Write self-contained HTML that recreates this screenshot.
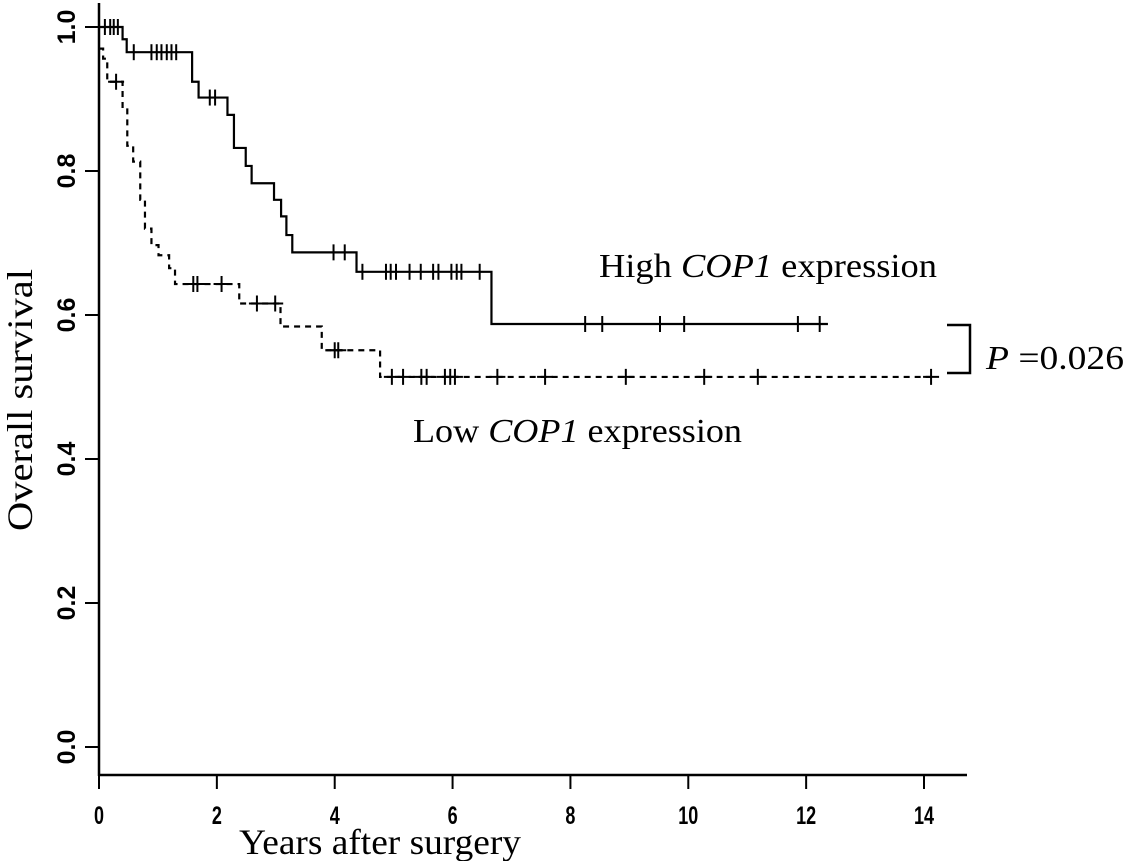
<!DOCTYPE html>
<html><head><meta charset="utf-8"><style>
html,body{margin:0;padding:0;background:#fff}
svg{display:block}
.serif{font-family:"Liberation Serif",serif}
.tick{font-family:"Liberation Sans",sans-serif;font-weight:bold;font-size:25px}
</style></head><body>
<svg id="chart" width="1127" height="861" viewBox="0 0 1127 861" xmlns="http://www.w3.org/2000/svg">
<g id="axes"></g>
<g id="curves"></g>
<text class="serif" x="599" y="277" font-size="34" textLength="338" lengthAdjust="spacingAndGlyphs">High <tspan font-style="italic">COP1</tspan> expression</text>
<text class="serif" x="413" y="442" font-size="34" textLength="329" lengthAdjust="spacingAndGlyphs">Low <tspan font-style="italic">COP1</tspan> expression</text>
<path d="M947 325 H970 V373 H947" fill="none" stroke="#000" stroke-width="2.5"/>
<text class="serif" x="986" y="369" font-size="34" textLength="138" lengthAdjust="spacingAndGlyphs"><tspan font-style="italic">P</tspan> =0.026</text>
<text class="serif" x="380" y="854" font-size="36" text-anchor="middle" textLength="282" lengthAdjust="spacingAndGlyphs">Years after surgery</text>
<text class="serif" transform="translate(32,400) rotate(-90)" font-size="36" text-anchor="middle" textLength="262" lengthAdjust="spacingAndGlyphs">Overall survival</text>
</svg>
<script>
const xTicks=[0,2,4,6,8,10,12,14];
const yTicks=[0.0,0.2,0.4,0.6,0.8,1.0];
const yTickLabels=["0.0","0.2","0.4","0.6","0.8","1.0"];
// High COP1: step times and survival after each step
const highStartS=1.0;
const highTimes=[0.40,0.47,1.58,1.69,2.18,2.29,2.49,2.59,2.97,3.09,3.18,3.28,4.37,6.66];
const highSurv=[0.983,0.965,0.924,0.902,0.878,0.832,0.807,0.783,0.760,0.737,0.711,0.687,0.660,0.5875];
const highCensor=[0.10,0.19,0.25,0.32,0.59,0.89,0.98,1.06,1.15,1.23,1.31,1.88,1.97,3.98,4.17,4.47,4.87,4.95,5.04,5.27,5.46,5.67,5.76,5.98,6.07,6.15,6.46,8.25,8.54,9.52,9.93,11.86,12.23];
const highEnd=12.37;
// Low COP1
const lowStartS=0.970;
const lowTimes=[0.07,0.14,0.40,0.48,0.58,0.70,0.78,0.89,1.01,1.19,1.29,2.38,3.08,3.78,4.77];
const lowSurv=[0.956,0.924,0.889,0.835,0.813,0.760,0.720,0.697,0.683,0.665,0.643,0.616,0.584,0.551,0.514];
const lowCensor=[0.29,1.60,1.67,2.08,2.68,2.99,4.00,4.06,4.97,5.16,5.47,5.56,5.87,5.96,6.04,6.76,7.57,8.94,10.27,11.18,14.12];
const lowEnd=14.12;

const NS="http://www.w3.org/2000/svg";
const X=t=>99+t*(825/14);
const Y=s=>747-s*720;
function mk(tag,attrs,parent){const e=document.createElementNS(NS,tag);for(const k in attrs)e.setAttribute(k,attrs[k]);parent.appendChild(e);return e;}
const axes=document.getElementById('axes');
const curves=document.getElementById('curves');
let e;
e=mk('line',{x1:99,y1:3,x2:99,y2:776,stroke:'#000','stroke-width':2.5},axes);


e=mk('line',{x1:98,y1:775,x2:967,y2:775,stroke:'#000','stroke-width':2.5},axes);


xTicks.forEach(v=>{
  e=mk('line',{x1:X(v),y1:775,x2:X(v),y2:789,stroke:'#000','stroke-width':2},axes);
  
  
  e=mk('text',{'text-anchor':'middle',class:'tick','font-size':'26',transform:`translate(${X(v)},824) scale(0.72,1)`},axes);
  e.textContent=String(v);
  
  
});
yTicks.forEach((v,i)=>{
  e=mk('line',{x1:85,y1:Y(v),x2:99,y2:Y(v),stroke:'#000','stroke-width':2},axes);
  
  
  e=mk('text',{class:'tick','text-anchor':'middle','font-size':'22',transform:`translate(75,${Y(v)}) rotate(-90)`},axes);
  e.textContent=yTickLabels[i];
  
  
});
function stepPath(s0,times,surv,end){
  let d=`M${X(0)} ${Y(s0)}`;
  times.forEach((t,i)=>{d+=` H${X(t)} V${Y(surv[i])}`;});
  d+=` H${X(end)}`;return d;
}
function survAt(s0,times,surv,t){let s=s0;times.forEach((tt,i)=>{if(tt<=t)s=surv[i];});return s;}
e=mk('path',{d:stepPath(highStartS,highTimes,highSurv,highEnd),fill:'none',stroke:'#000','stroke-width':2.2},curves);


e=mk('path',{d:stepPath(lowStartS,lowTimes,lowSurv,lowEnd),fill:'none',stroke:'#000','stroke-width':2.2,'stroke-dasharray':'6,5'},curves);


highCensor.forEach(t=>{
  const y=Y(survAt(highStartS,highTimes,highSurv,t));
  e=mk('line',{x1:X(t),y1:y-8,x2:X(t),y2:y+8,stroke:'#000','stroke-width':2},curves);
  
  
});
lowCensor.forEach(t=>{
  const y=Y(survAt(lowStartS,lowTimes,lowSurv,t));
  e=mk('path',{d:`M${X(t)} ${y-8} V${y+8} M${X(t)-8} ${y} H${X(t)+8}`,stroke:'#000','stroke-width':2,fill:'none'},curves);
  
  
});
</script>
</body></html>
